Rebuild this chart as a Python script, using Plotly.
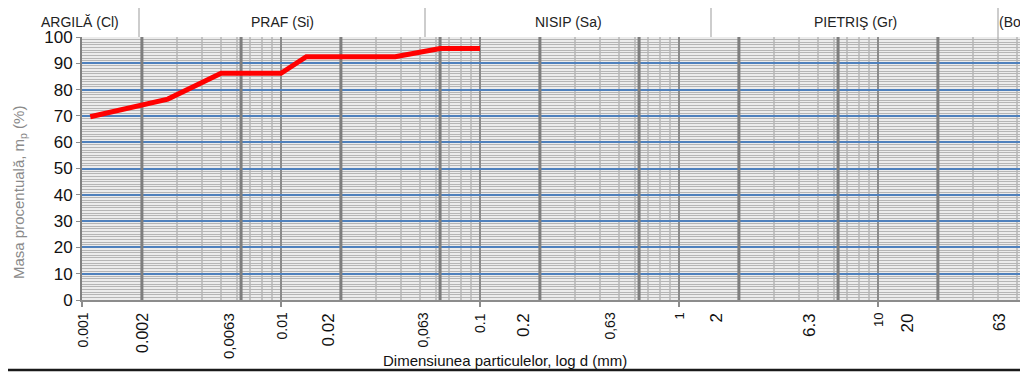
import plotly.graph_objects as go
import numpy as np

# ---------------- data ----------------
diam_mm = [0.0011, 0.002, 0.0027, 0.005, 0.01, 0.0134, 0.0375, 0.063, 0.1]
passing_pct = [69.7, 74.0, 76.4, 86.2, 86.2, 92.5, 92.5, 95.6, 95.6]

class_bounds = [0.002, 0.0063, 0.02, 0.063, 0.2, 0.63, 2, 6.3, 20, 63]
decades = [0.001, 0.01, 0.1, 1, 10]

tick_labels = ["0.001", "0.002", "0,0063", "0.01", "0.02", "0,063", "0.1", "0.2",
               "0,63", "1", "2", "6.3", "10", "20", "63"]
tick_values = [0.001, 0.002, 0.0063, 0.01, 0.02, 0.063, 0.1, 0.2,
               0.63, 1, 2, 6.3, 10, 20, 63]
tick_sizes = [14, 16, 15, 14, 17, 14, 14, 17, 14, 13, 17, 17, 13, 17, 16]
tick_xshift = [0, 0, -13, 0, -12, -18, 0, -17, -30, 0, -22, -29, 0, -30, -38]

class_names = ["ARGILĂ (Cl)", "PRAF (Si)", "NISIP (Sa)", "PIETRIŞ (Gr)", "(Bo)"]

# ---------------- geometry helpers (page pixels -> paper) ----------------
OFF = 8  # page body margin
W, H = 1020, 364
L, T = 74, 29
B = 72
PW, PH = W - L, H - T - B
PX_PER_DECADE = 199.0


def px(xp):
    return (xp - OFF - L) / PW


def py(yp):
    return (H - B - (yp - OFF)) / PH


minor_vals = [m * d for d in [0.001, 0.01, 0.1, 1, 10] for m in range(2, 10)]

fig = go.Figure()

# class boundary lines (dark grey, thick)
bx, by = [], []
for b in class_bounds:
    bx += [b, b, None]
    by += [0, 100, None]
fig.add_trace(go.Scatter(x=bx, y=by, mode="lines",
                         line=dict(color="#7f7f7f", width=3),
                         hoverinfo="skip", showlegend=False))

# grading curve
fig.add_trace(go.Scatter(x=diam_mm, y=passing_pct, mode="lines",
                         line=dict(color="#ff0000", width=5),
                         showlegend=False))

annotations = []
for lab, v, s, sh in zip(tick_labels, tick_values, tick_sizes, tick_xshift):
    annotations.append(dict(
        x=np.log10(v) + sh / PX_PER_DECADE, y=py(311), xref="x", yref="paper",
        text=lab, textangle=-90, showarrow=False,
        xanchor="center", yanchor="top",
        font=dict(family="Liberation Sans, Arial", size=s, color="#111111")))

# header texts
hdr_x = [80, 282, 568, 855, 1012]
for name, hx in zip(class_names, hdr_x):
    annotations.append(dict(
        x=px(hx), y=py(22), xref="paper", yref="paper", text=name,
        showarrow=False, xanchor="center", yanchor="middle",
        font=dict(family="Liberation Sans, Arial", size=14, color="#222222")))

# axis titles
annotations.append(dict(
    x=px(505), y=py(360), xref="paper", yref="paper",
    text="Dimensiunea particulelor, log d (mm)", showarrow=False,
    xanchor="center", yanchor="middle",
    font=dict(family="Liberation Sans, Arial", size=15, color="#111111")))
annotations.append(dict(
    x=px(19), y=py(193), xref="paper", yref="paper",
    text="Masa procentuală, m<sub>p</sub> (%)", textangle=-90, showarrow=False,
    xanchor="center", yanchor="middle",
    font=dict(family="Liberation Sans Narrow, Liberation Sans, Arial", size=15,
              color="#8a8a8a")))

shapes = []
# header box lines
for sx in [139, 425, 711, 998]:
    shapes.append(dict(type="line", xref="paper", yref="paper",
                       x0=px(sx), x1=px(sx), y0=py(37), y1=py(3),
                       line=dict(color="#bdbdbd", width=1.5)))
shapes.append(dict(type="line", xref="paper", yref="paper",
                   x0=px(139), x1=px(1030), y0=py(3), y1=py(3),
                   line=dict(color="#bdbdbd", width=1.5)))
# bottom black rule
shapes.append(dict(type="line", xref="paper", yref="paper",
                   x0=px(-2), x1=px(1030), y0=py(370), y1=py(370),
                   line=dict(color="#1a1a1a", width=2.5)))

fig.update_layout(
    width=W, height=H,
    margin=dict(l=L, r=0, t=T, b=B),
    paper_bgcolor="white",
    plot_bgcolor="#ececec",
    annotations=annotations,
    shapes=shapes,
    xaxis=dict(
        type="log", range=[-3, -3 + PW / PX_PER_DECADE],
        tickvals=decades, ticks="outside", ticklen=5, tickwidth=1.5,
        tickcolor="#8c8c8c", showticklabels=False,
        showgrid=True, gridcolor="#8c8c8c", gridwidth=1.5,
        minor=dict(tickvals=minor_vals, ticks="", showgrid=True,
                   gridcolor="#c3c3c3", gridwidth=2),
        showline=True, linecolor="#8c8c8c", linewidth=1.5,
        zeroline=False, fixedrange=True,
    ),
    yaxis=dict(
        range=[0, 100], tickvals=list(range(0, 101, 10)),
        ticks="outside", ticklen=4, tickcolor="#8c8c8c",
        tickfont=dict(family="Liberation Sans, Arial", size=17, color="#111111"),
        showgrid=True, gridcolor="#4f81bd", gridwidth=1.5,
        minor=dict(dtick=1, ticks="", showgrid=True,
                   gridcolor="#b5b5b5", gridwidth=1),
        showline=True, linecolor="#808080", linewidth=2,
        zeroline=False, fixedrange=True,
    ),
)

fig.write_html("out.html")
